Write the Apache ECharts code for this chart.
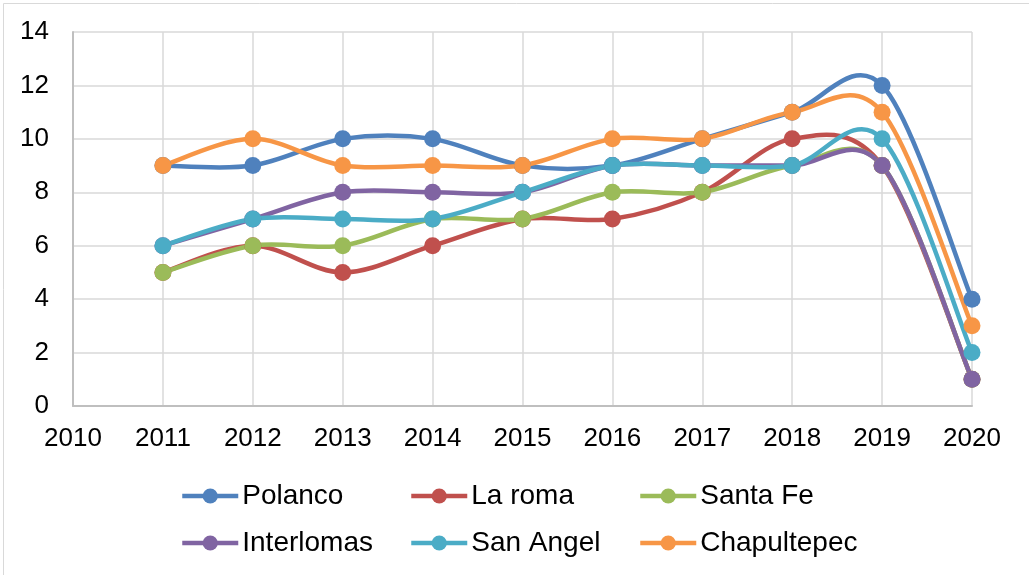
<!DOCTYPE html>
<html>
<head>
<meta charset="utf-8">
<script src="https://cdn.jsdelivr.net/npm/echarts@6/dist/echarts.min.js"></script>
<style>
  html, body { margin: 0; padding: 0; background: #fff; }
  #chart { width: 1029px; height: 575px; }
</style>
</head>
<body>
<div id="chart"></div>
<script>
// years on the x axis (value axis 2010..2020)
const years = [2011, 2012, 2013, 2014, 2015, 2016, 2017, 2018, 2019, 2020];

const polanco     = [9, 9, 10, 10, 9, 9, 10, 11, 12, 4];
const laRoma      = [5, 6, 5, 6, 7, 7, 8, 10, 9, 1];
const santaFe     = [5, 6, 6, 7, 7, 8, 8, 9, 9, 1];
const interlomas  = [6, 7, 8, 8, 8, 9, 9, 9, 9, 1];
const sanAngel    = [6, 7, 7, 7, 8, 9, 9, 9, 10, 2];
const chapultepec = [9, 10, 9, 9, 9, 10, 10, 11, 11, 3];

const seriesNames = ['Polanco', 'La roma', 'Santa Fe', 'Interlomas', 'San Angel', 'Chapultepec'];
const seriesValues = [polanco, laRoma, santaFe, interlomas, sanAngel, chapultepec];
const colors = ['#4F81BD', '#C0504D', '#9BBB59', '#8064A2', '#4BACC6', '#F79646'];

const FONT = 'Liberation Sans, Arial, sans-serif';
const LINE_W = 4.5;

const chart = echarts.init(document.getElementById('chart'), null, { renderer: 'canvas' });

// Excel-style smoothed segment (Catmull-Rom -> cubic bezier, tension 1/6)
function smoothSegment(k) {
  const vals = seriesValues[k];
  return function (params, api) {
    const i = params.dataIndex;
    if (i >= years.length - 1) return null;
    const pt = j => {
      j = Math.max(0, Math.min(years.length - 1, j));
      return api.coord([years[j], vals[j]]);
    };
    const p0 = pt(i - 1), p1 = pt(i), p2 = pt(i + 1), p3 = pt(i + 2);
    return {
      type: 'bezierCurve',
      shape: {
        x1: p1[0], y1: p1[1],
        x2: p2[0], y2: p2[1],
        cpx1: p1[0] + (p2[0] - p0[0]) / 6, cpy1: p1[1] + (p2[1] - p0[1]) / 6,
        cpx2: p2[0] - (p3[0] - p1[0]) / 6, cpy2: p2[1] - (p3[1] - p1[1]) / 6
      },
      style: { stroke: colors[k], lineWidth: LINE_W, fill: null, lineCap: 'round' },
      silent: true
    };
  };
}

const legendBase = {
  orient: 'vertical',
  top: 477,
  itemWidth: 56,
  itemHeight: 19,
  itemGap: 19,
  lineStyle: { opacity: 1, width: LINE_W },
  textStyle: { fontFamily: FONT, fontSize: 28, color: '#000', padding: [0, 0, 0, -1] }
};

const axisCommon = {
  axisLine: { show: true, lineStyle: { color: '#bfbfbf', width: 2 } },
  axisTick: { show: false },
  splitLine: { show: true, lineStyle: { color: '#d9d9d9', width: 1.5 } }
};

chart.setOption({
  animation: false,
  color: colors,
  textStyle: { fontFamily: FONT },
  graphic: [{
    type: 'polyline',
    shape: { points: [[3.5, 575], [3.5, 3.5], [1029, 3.5]] },
    style: { stroke: '#d9d9d9', lineWidth: 1, fill: null }
  }],
  grid: { left: 73, right: 57, top: 32, bottom: 169, containLabel: false },
  xAxis: Object.assign({
    type: 'value',
    min: 2010,
    max: 2020,
    interval: 1,
    axisLabel: { color: '#000', fontSize: 26, fontFamily: FONT, margin: 20, formatter: v => String(v) }
  }, axisCommon),
  yAxis: Object.assign({
    type: 'value',
    min: 0,
    max: 14,
    interval: 2,
    axisLabel: { color: '#000', fontSize: 26, fontFamily: FONT, margin: 24 }
  }, axisCommon),
  legend: [
    Object.assign({}, legendBase, { left: 175, data: ['Polanco', 'Interlomas'] }),
    Object.assign({}, legendBase, { left: 404, data: ['La roma', 'San Angel'] }),
    Object.assign({}, legendBase, { left: 633, data: ['Santa Fe', 'Chapultepec'] })
  ],
  series: seriesNames.map((name, i) => ({
    name: name,
    type: 'line',
    z: 3,
    symbol: 'circle',
    symbolSize: 17,
    lineStyle: { width: LINE_W, color: colors[i], opacity: 0 },
    itemStyle: { color: colors[i] },
    data: years.map((y, j) => [y, seriesValues[i][j]])
  })).concat(seriesNames.map((name, i) => ({
    name: name,
    type: 'custom',
    z: 2,
    silent: true,
    renderItem: smoothSegment(i),
    encode: { x: 0, y: 1 },
    data: years.map((y, j) => [y, seriesValues[i][j]])
  })))
});
</script>
</body>
</html>
